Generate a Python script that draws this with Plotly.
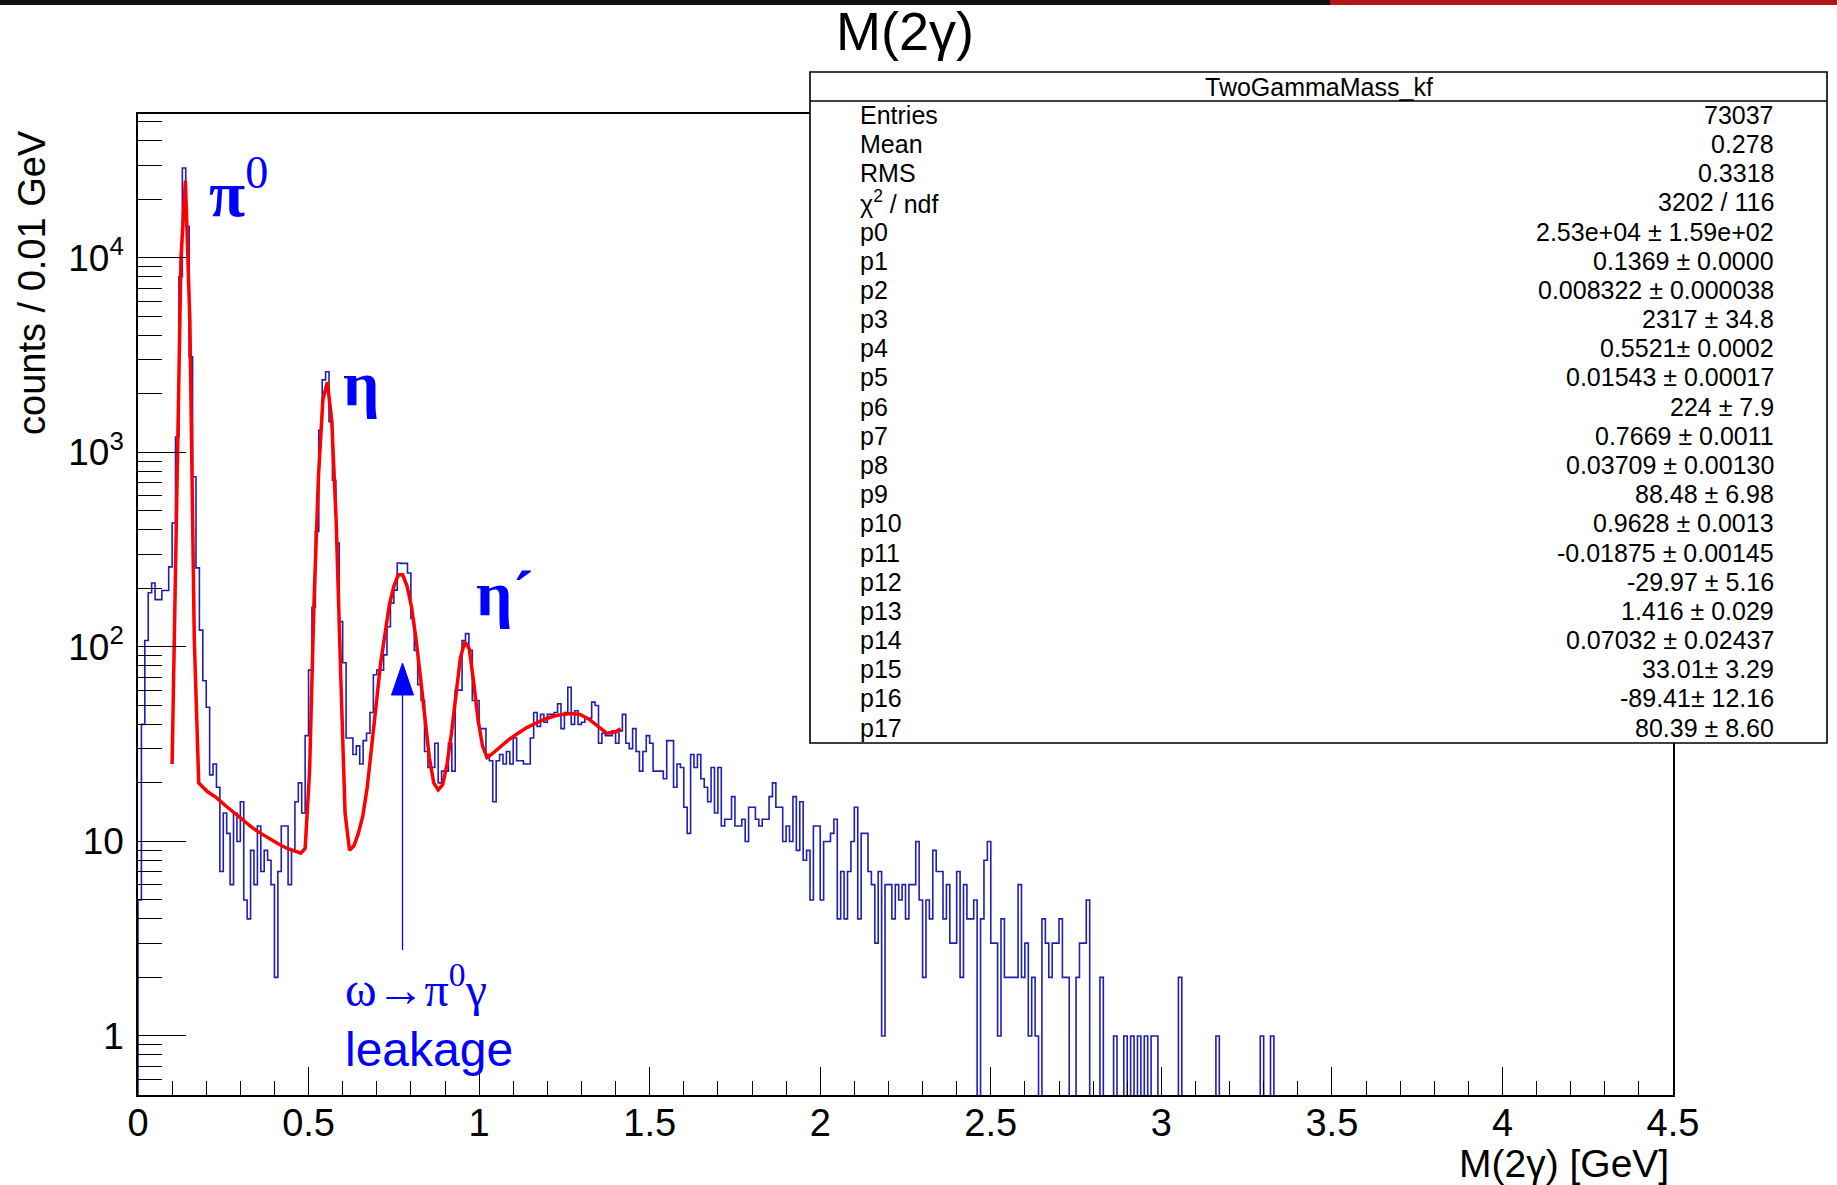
import math
import plotly.graph_objects as go

# ---------------- data ----------------
BIN_WIDTH = 0.01          # GeV
N_BINS = 450              # 0 .. 4.5 GeV

# histogram counts per 0.01 GeV bin, by region
counts_000_018 = [5, 40, 108, 190, 213, 175, 175, 195, 195, 258, 434, 1200, 8000, 29000,
                  14500, 3100, 750, 255, 122]
counts_019_050 = [67, 49, 22, 25, 19, 7, 14, 11, 6, 14, 10, 16, 5, 4, 9, 6, 12, 7, 9, 8,
                  6, 2, 7, 12, 12, 6, 9, 16, 20, 14, 35, 76]
counts_051_060 = [160, 392, 1300, 2360, 2600, 1440, 720, 342, 135, 83]
counts_061_076 = [34, 34, 28, 31, 25, 33, 36, 46, 72, 76, 76, 91, 127, 168, 196, 270]
counts_077_099 = [269, 269, 240, 140, 96, 64, 53, 29, 24, 24, 32, 20, 23, 23, 32, 23, 60,
                  60, 108, 117, 96, 53, 53]
counts_100_152 = [38, 38, 28, 26, 16, 26, 28, 25, 29, 25, 34, 26, 26, 25, 25, 34, 46, 39,
                  45, 41, 45, 45, 46, 51, 38, 46, 62, 40, 47, 40, 41, 43, 43, 52, 50, 32,
                  36, 35, 35, 37, 32, 37, 45, 32, 30, 38, 29, 23, 29, 35, 32, 23, 23]
counts_153_252 = [23, 21, 33, 33, 19, 25, 24, 15, 11, 28, 24, 28, 21, 19, 16, 24, 14, 24,
                  12, 13, 13, 17, 12, 12, 13, 10, 15, 15, 13, 12, 13, 13, 17, 20, 15, 15,
                  10, 12, 10, 17, 9, 16, 8, 9, 5, 12, 12, 5, 10, 10, 11, 13, 4, 7, 4, 7,
                  10, 15, 4, 11, 11, 7, 6, 3, 7, 1, 6, 6, 4, 6, 5, 6, 4, 6, 6, 10, 5, 2,
                  5, 4, 9, 7, 7, 4, 6, 3, 3, 7, 2, 6, 4, 4, 5, 0, 4, 8, 10, 3, 3, 1]
counts_253_332 = [4, 2, 2, 2, 2, 6, 2, 3, 1, 2, 1, 0, 4, 3, 2, 3, 3, 4, 2, 2,
                  0, 0, 2, 3, 3, 5, 0, 0, 0, 2, 0, 0, 0, 1, 0, 0, 1, 0, 1, 0,
                  1, 0, 1, 0, 1, 1, 0, 0, 0, 0, 0, 0, 2, 0, 0, 0, 0, 0, 0, 0,
                  0, 0, 0, 1, 0, 0, 0, 0, 0, 0, 0, 0, 0, 0, 0, 0, 1, 0, 0, 1]

# fit curve (red): x in GeV, counts
fit_x = [0.100, 0.113, 0.126, 0.139, 0.152, 0.165, 0.178, 0.204, 0.230, 0.256, 0.282,
         0.308, 0.334, 0.360, 0.386, 0.412, 0.438, 0.464, 0.477, 0.490, 0.503, 0.516,
         0.529, 0.542, 0.555, 0.568, 0.581, 0.594, 0.607, 0.620, 0.633, 0.646, 0.659,
         0.672, 0.685, 0.698, 0.711, 0.724, 0.737, 0.750, 0.763, 0.776, 0.789, 0.802,
         0.815, 0.828, 0.841, 0.854, 0.867, 0.880, 0.893, 0.906, 0.919, 0.932, 0.945,
         0.958, 0.971, 0.984, 0.997, 1.010, 1.023, 1.036, 1.062, 1.088, 1.114, 1.140,
         1.166, 1.192, 1.218, 1.244, 1.270, 1.296, 1.322, 1.348, 1.374, 1.400, 1.415]
fit_y = [25, 420, 10000, 25000, 4800, 110, 20, 18, 16.8, 15.3, 14,
         12.8, 11.8, 11, 10.3, 9.7, 9.2, 8.8, 8.7, 9.2, 23, 170,
         750, 1870, 2300, 1460, 440, 75, 14, 9, 9.5, 11, 13.5,
         19, 30, 50, 82, 120, 165, 205, 235, 235, 205, 160,
         110, 70, 42, 27, 20, 18.4, 19.5, 25, 36, 58, 88,
         106, 98, 66, 42, 31, 27, 28, 30.5, 33.5, 36, 38.5,
         40.5, 42.5, 44, 45, 45.5, 45, 42.5, 39, 36, 36.5, 38]

x_tick_vals = [0, 0.5, 1, 1.5, 2, 2.5, 3, 3.5, 4, 4.5]
x_tick_text = ["0", "0.5", "1", "1.5", "2", "2.5", "3", "3.5", "4", "4.5"]
y_tick_vals = [1, 10, 100, 1000, 10000]
y_tick_text = ["1", "10", "10<sup>2</sup>", "10<sup>3</sup>", "10<sup>4</sup>"]

stats_title = "TwoGammaMass_kf"
stats_labels = ["Entries", "Mean", "RMS", "χ<sup>2</sup> / ndf", "p0", "p1", "p2", "p3",
                "p4", "p5", "p6", "p7", "p8", "p9", "p10", "p11", "p12", "p13", "p14",
                "p15", "p16", "p17"]
stats_values = ["73037", "0.278", "0.3318", "3202 / 116", "2.53e+04 ± 1.59e+02",
                "0.1369 ± 0.0000", "0.008322 ± 0.000038", "2317 ± 34.8", "0.5521± 0.0002",
                "0.01543 ± 0.00017", "224 ± 7.9", "0.7669 ± 0.0011", "0.03709 ± 0.00130",
                "88.48 ± 6.98", "0.9628 ± 0.0013", "-0.01875 ± 0.00145", "-29.97 ± 5.16",
                "1.416 ± 0.029", "0.07032 ± 0.02437", "33.01± 3.29", "-89.41± 12.16",
                "80.39 ± 8.60"]

# ---------------- layout geometry (pixels) ----------------
W, H = 1837, 1185
PL, PR, PT, PB = 138, 1673, 114, 1095


def px(x):
    return (x - PL) / (PR - PL)


def py(y):
    return (PB - y) / (PB - PT)


SANS = "Liberation Sans, Arial, Helvetica, sans-serif"
SERIF = "Liberation Serif, Times New Roman, serif"
BLUE = "#0000ff"
HIST_BLUE = "#1f1fb4"

counts = (counts_000_018 + counts_019_050 + counts_051_060 + counts_061_076 +
          counts_077_099 + counts_100_152 + counts_153_252 + counts_253_332)
counts = counts + [0] * (N_BINS - len(counts))

edges = [round(i * BIN_WIDTH, 4) for i in range(N_BINS + 1)]
FLOOR = 0.05  # empty bins drop below the frame (like ROOT)
hx = [edges[0]] + edges[:-1] + [edges[-1]]
hy = [FLOOR] + [c if c > 0 else FLOOR for c in counts] + [FLOOR]

fig = go.Figure()
fig.add_trace(go.Scatter(x=hx, y=hy, mode="lines", line=dict(shape="hv", color=HIST_BLUE, width=1.6),
                         hoverinfo="skip", showlegend=False))
fig.add_trace(go.Scatter(x=fit_x, y=fit_y, mode="lines", line=dict(color="#ff0000", width=3.5),
                         hoverinfo="skip", showlegend=False))

ymin_log = math.log10(0.497)
ymax_log = 4.740

minor_y = [0.6, 0.7, 0.8, 0.9]
for d in range(0, 5):
    for k in range(2, 10):
        v = k * 10 ** d
        if math.log10(v) <= ymax_log:
            minor_y.append(v)

fig.update_layout(
    width=W, height=H, autosize=False,
    margin=dict(l=PL, r=W - PR, t=PT, b=H - PB, pad=0),
    paper_bgcolor="white", plot_bgcolor="white",
    showlegend=False,
    xaxis=dict(range=[0, 4.5], showgrid=False, zeroline=False,
               showline=True, linecolor="black", linewidth=1.5, mirror=True,
               ticks="inside", ticklen=28, tickwidth=1.3, tickcolor="black",
               tickmode="array", tickvals=x_tick_vals, ticktext=x_tick_text,
               tickfont=dict(family=SANS, size=38, color="black"),
               ticklabelstandoff=-6,
               minor=dict(ticks="inside", ticklen=14, tickwidth=1.3, tickcolor="black",
                          dtick=0.1, tick0=0, showgrid=False)),
    yaxis=dict(type="log", range=[ymin_log, ymax_log], showgrid=False, zeroline=False,
               showline=True, linecolor="black", linewidth=1.5, mirror=True,
               ticks="inside", ticklen=48, tickwidth=1.3, tickcolor="black",
               tickmode="array", tickvals=y_tick_vals, ticktext=y_tick_text,
               tickfont=dict(family=SANS, size=37, color="black"),
               ticklabelstandoff=5,
               minor=dict(ticks="inside", ticklen=24, tickwidth=1.3, tickcolor="black",
                          tickmode="array", tickvals=minor_y, showgrid=False)),
)

shapes = []
annots = []

# top banner strip of the slide
shapes.append(dict(type="rect", xref="paper", yref="paper", x0=px(0), x1=px(W), y0=py(5), y1=py(0),
                   fillcolor="#111111", line=dict(width=0), layer="above"))
shapes.append(dict(type="rect", xref="paper", yref="paper", x0=px(1330), x1=px(W), y0=py(5), y1=py(0),
                   fillcolor="#b01818", line=dict(width=0), layer="above"))

# title
annots.append(dict(text="M(2γ)", xref="paper", yref="paper", x=px(905), y=py(31),
                   xanchor="center", yanchor="middle", showarrow=False,
                   font=dict(family=SANS, size=54, color="black")))
# axis titles
annots.append(dict(text="M(2γ) [GeV]", xref="paper", yref="paper", x=px(1671), y=py(1163),
                   xanchor="right", yanchor="middle", showarrow=False,
                   font=dict(family=SANS, size=39, color="black")))
annots.append(dict(text="counts / 0.01 GeV", xref="paper", yref="paper", x=px(32), y=py(282),
                   xanchor="center", yanchor="middle", showarrow=False, textangle=-90,
                   font=dict(family=SANS, size=38, color="black")))

# stats box
BX0, BX1, BY0, BY1, BHDR = 810, 1827, 72, 743, 101
shapes.append(dict(type="rect", xref="paper", yref="paper", x0=px(BX0), x1=px(BX1),
                   y0=py(BY1), y1=py(BY0), fillcolor="white", line=dict(color="black", width=1.6),
                   layer="above"))
shapes.append(dict(type="line", xref="paper", yref="paper", x0=px(BX0), x1=px(BX1),
                   y0=py(BHDR), y1=py(BHDR), line=dict(color="black", width=1.6), layer="above"))
annots.append(dict(text=stats_title, xref="paper", yref="paper", x=px((BX0 + BX1) / 2),
                   y=py((BY0 + BHDR) / 2), xanchor="center", yanchor="middle", showarrow=False,
                   font=dict(family=SANS, size=25, color="black")))
ROW0, ROWSTEP = 114.8, 29.18
for i, (lab, val) in enumerate(zip(stats_labels, stats_values)):
    yc = ROW0 + ROWSTEP * i
    annots.append(dict(text=lab, xref="paper", yref="paper", x=px(858), y=py(yc),
                       xanchor="left", yanchor="middle", showarrow=False,
                       font=dict(family=SANS, size=25, color="black")))
    annots.append(dict(text=val, xref="paper", yref="paper", x=px(1776), y=py(yc),
                       xanchor="right", yanchor="middle", showarrow=False,
                       font=dict(family=SANS, size=25, color="black")))

# peak labels
annots.append(dict(text="<b>π</b><sup>0</sup>", xref="paper", yref="paper", x=px(207), y=py(188),
                   xanchor="left", yanchor="middle", showarrow=False,
                   font=dict(family=SERIF, size=66, color=BLUE)))
annots.append(dict(text="<b>η</b>", xref="paper", yref="paper", x=px(341), y=py(383),
                   xanchor="left", yanchor="middle", showarrow=False,
                   font=dict(family=SERIF, size=64, color=BLUE)))
annots.append(dict(text="<b>η´</b>", xref="paper", yref="paper", x=px(474), y=py(593),
                   xanchor="left", yanchor="middle", showarrow=False,
                   font=dict(family=SERIF, size=64, color=BLUE)))
annots.append(dict(text="ω→π<sup>0</sup>γ", xref="paper", yref="paper", x=px(343), y=py(986),
                   xanchor="left", yanchor="middle", showarrow=False,
                   font=dict(family=SERIF, size=48, color=BLUE)))
annots.append(dict(text="leakage", xref="paper", yref="paper", x=px(343), y=py(1049),
                   xanchor="left", yanchor="middle", showarrow=False,
                   font=dict(family=SANS, size=48, color=BLUE)))

# omega arrow
AX = 402.5
shapes.append(dict(type="line", xref="paper", yref="paper", x0=px(AX), x1=px(AX),
                   y0=py(950), y1=py(692), line=dict(color=BLUE, width=1.3), layer="above"))
shapes.append(dict(type="path", xref="paper", yref="paper",
                   path=f"M {px(AX)} {py(663)} L {px(AX - 11)} {py(695)} L {px(AX + 11)} {py(695)} Z",
                   fillcolor=BLUE, line=dict(color=BLUE, width=1), layer="above"))

fig.update_layout(shapes=shapes, annotations=annots)
fig.write_html("out.html")
